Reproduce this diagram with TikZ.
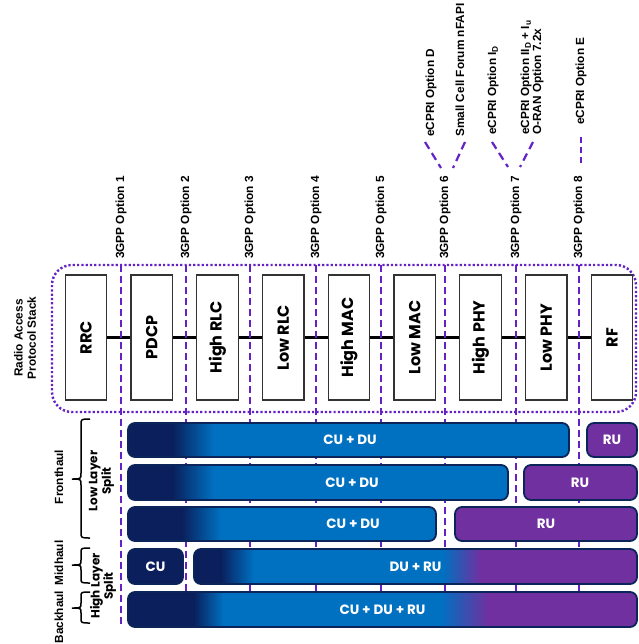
\documentclass[tikz,border=0pt]{standalone}
\usepackage{fontspec}
\setmainfont{Liberation Sans}
\newfontfamily\geo{Poppins}
\usetikzlibrary{calc}
\definecolor{navy}{HTML}{0A1F5C}
\definecolor{cblue}{HTML}{0070C0}
\definecolor{cpurp}{HTML}{7030A0}
\definecolor{dashc}{HTML}{6422C6}
\definecolor{bord}{HTML}{0B2459}
\newcommand\mybar[5]{%
  \begin{scope}
    \clip[rounded corners=7pt] (#1,#3) rectangle (#2,#4);
    #5
  \end{scope}
  \draw[bord, line width=1.8pt, rounded corners=7pt] (#1,#3) rectangle (#2,#4);
}
\begin{document}
\begin{tikzpicture}[x=1pt,y=-1pt,
  optline/.style={draw=dashc, line width=2.2pt, dash pattern=on 7pt off 4pt},
  dotline/.style={draw=dashc, line width=2.4pt, dash pattern=on 2.2pt off 2.1pt},
  optlabel/.style={rotate=90, anchor=west, inner sep=0pt, font=\bfseries\fontsize{11.8}{12}\selectfont},
  stackbox/.style={rotate=90, draw=black!80, line width=1.2pt, fill=white, minimum width=125pt, minimum height=41.5pt, inner sep=0pt, font=\geo\bfseries\fontsize{16}{16}\selectfont},
  sidelabel/.style={rotate=90, inner sep=0pt, align=center, font=\bfseries\fontsize{11.8}{13.3}\selectfont},
  geolabel/.style={rotate=90, inner sep=0pt, align=center, font=\geo\bfseries\fontsize{12}{13.3}\selectfont},
  barlabel/.style={text=white, inner sep=0pt, font=\geo\bfseries\fontsize{13.5}{14}\selectfont},
  brace/.style={draw=black, line width=1.5pt}
]
\useasboundingbox (0,0) rectangle (638,644);

% protocol stack frame
\draw[dotline, rounded corners=20pt] (52,265) rectangle (636,412);

% option split lines
\foreach \n/\x in {1/121,2/186,3/250,4/316,5/381,6/445,7/516,8/579}{
  \coordinate (t\n) at (\x,265);
  \coordinate (b\n) at (\x,627);
  \draw[optline] (t\n) -- (b\n);
  \node[optlabel] (o\n) at (\x,259) {3GPP Option \n};
}

% stack boxes
\foreach \i/\t [count=\k from 0] in {rrc/RRC,pdcp/PDCP,hrlc/High RLC,lrlc/Low RLC,hmac/High MAC,lmac/Low MAC,hphy/High PHY,lphy/Low PHY,rf/RF}{
  \node[stackbox] (\i) at ({86+65.75*\k},337.5) {\t};
}
\foreach \a/\b in {rrc/pdcp,pdcp/hrlc,hrlc/lrlc,lrlc/hmac,hmac/lmac,lmac/hphy,hphy/lphy,lphy/rf}{
  \draw[black, line width=2.2pt] (\a.south) -- (\b.north);
}
% redraw dashes over connector line
\foreach \n/\x in {1/121,2/186,3/250,4/316,5/381,6/445,7/516,8/579}{
  \draw[optline] (\x,331) -- (\x,345);
}

% upper interface labels
\node[optlabel] (ecd) at (431,137) {eCPRI Option D};
\node[optlabel] (scf) at (460,137) {Small Cell Forum nFAPI};
\node[optlabel] (eci) at (493,135) {eCPRI Option I\textsubscript{D}};
\node[optlabel, align=left] (ecii) at (532,135) {eCPRI Option II\textsubscript{D} + I\textsubscript{u}\\O-RAN Option 7.2x};
\node[optlabel] (ece) at (581,125) {eCPRI Option E};
\coordinate (d1a) at (425,142); \coordinate (d1b) at (441,168);
\coordinate (d2a) at (465,142); \coordinate (d2b) at (453,168);
\coordinate (d3a) at (492,142); \coordinate (d3b) at (508,167);
\coordinate (d4a) at (533,142); \coordinate (d4b) at (520,167);
\coordinate (d5a) at (581,137); \coordinate (d5b) at (581,164);
\foreach \p in {1,...,4}{ \draw[optline, dash pattern=on 8pt off 5pt] (d\p a) -- (d\p b); }
\draw[optline, dash pattern=on 6pt off 4pt] (d5a) -- (d5b);

% left labels
\node[sidelabel] (ras) at (25,338) {Radio Access\\Protocol Stack};
\node[sidelabel] (fh) at (59,477) {Fronthaul};
\node[geolabel] (lls) at (101.5,481) {Low Layer\\Split};
\node[sidelabel] (mh) at (59,563) {Midhaul};
\node[sidelabel] (bh) at (59,617) {Backhaul};
\node[geolabel] (hls) at (103,586) {High Layer\\Split};

% braces
\draw[brace] (90,419) .. controls (81,419) .. (81,425) -- (81,473) .. controls (81,479) .. (72,479) .. controls (81,479) .. (81,485) -- (81,532) .. controls (81,538) .. (90,538);
\draw[brace] (90,548) .. controls (81,548) .. (81,553) -- (81,560) .. controls (81,565) .. (72,565) .. controls (81,565) .. (81,570) -- (81,578) .. controls (81,583) .. (90,583);
\draw[brace] (90,592) .. controls (81,592) .. (81,597) -- (81,603) .. controls (81,608) .. (72,608) .. controls (81,608) .. (81,613) -- (81,618) .. controls (81,623) .. (90,623);

% bars
\mybar{128}{569}{423}{457}{\fill[navy] (128,423) rectangle (173,457); \shade[left color=navy,right color=cblue] (172.5,423) rectangle (213.5,457); \fill[cblue] (213,423) rectangle (569,457);}
\mybar{587}{637}{423}{457}{\fill[cpurp] (587,423) rectangle (637,457);}
\mybar{128}{508}{465}{500}{\fill[navy] (128,465) rectangle (173,500); \shade[left color=navy,right color=cblue] (172.5,465) rectangle (213.5,500); \fill[cblue] (213,465) rectangle (508,500);}
\mybar{524}{637}{465}{500}{\fill[cpurp] (524,465) rectangle (637,500);}
\mybar{128}{436}{507}{541}{\fill[navy] (128,507) rectangle (182,541); \shade[left color=navy,right color=cblue] (181.5,507) rectangle (220.5,541); \fill[cblue] (220,507) rectangle (436,541);}
\mybar{455}{637}{507}{541}{\fill[cpurp] (455,507) rectangle (637,541);}
\mybar{128}{183}{549}{584}{\fill[navy] (128,549) rectangle (183,584);}
\mybar{194}{637}{549}{584}{\fill[navy] (194,549) rectangle (221,584); \shade[left color=navy,right color=cblue] (220.5,549) rectangle (253.5,584); \fill[cblue] (253,549) rectangle (443.5,584); \shade[left color=cblue,right color=cpurp] (443,549) rectangle (480.5,584); \fill[cpurp] (480,549) rectangle (637,584);}
\mybar{128}{637}{592}{627}{\fill[navy] (128,592) rectangle (194,627); \shade[left color=navy,right color=cblue] (193.5,592) rectangle (223.5,627); \fill[cblue] (223,592) rectangle (441.5,627); \shade[left color=cblue,right color=cpurp] (441,592) rectangle (488.5,627); \fill[cpurp] (488,592) rectangle (637,627);}

% bar labels
\node[barlabel] (cd1) at (350,440) {CU + DU};
\node[barlabel] (ru1) at (612,440) {RU};
\node[barlabel] (cd2) at (352,482.5) {CU + DU};
\node[barlabel] (ru2) at (580,482.5) {RU};
\node[barlabel] (cd3) at (353,524) {CU + DU};
\node[barlabel] (ru3) at (546,524) {RU};
\node[barlabel] (cu4) at (155.5,566.5) {CU};
\node[barlabel] (dr4) at (415.5,566.5) {DU + RU};
\node[barlabel] (cdr5) at (382.5,609.5) {CU + DU + RU};
\end{tikzpicture}
\end{document}
